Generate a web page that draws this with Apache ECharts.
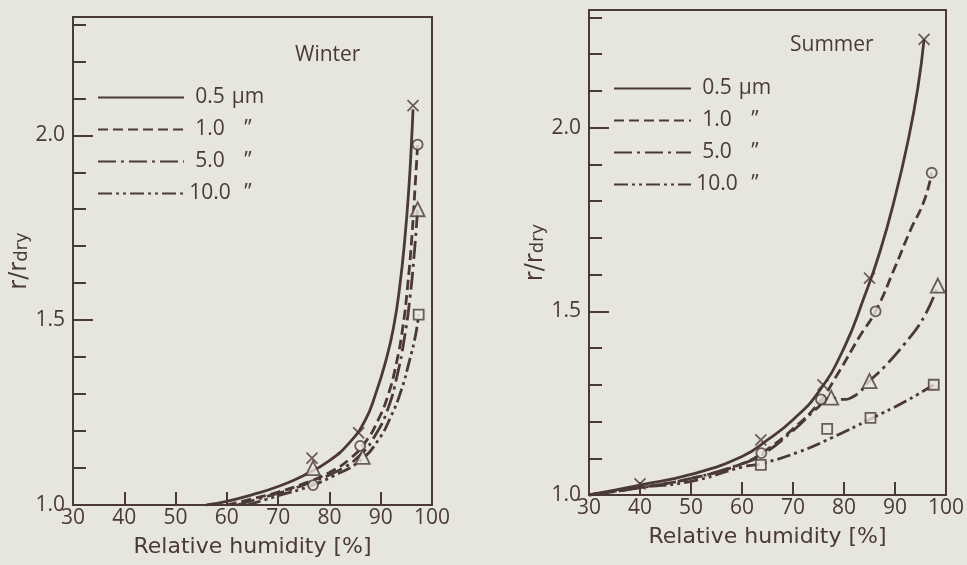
<!DOCTYPE html>
<html>
<head>
<meta charset="utf-8">
<script src="https://cdn.jsdelivr.net/npm/echarts@6/dist/echarts.min.js"></script>
<style>
  html, body { margin: 0; padding: 0; background: #e7e6de; }
  #chart { width: 967px; height: 565px; }
</style>
</head>
<body>
<div id="chart"></div>
<script>
// Growth factor r/r_dry against relative humidity for four dry radii.
const sizeNames = ['0.5 µm', '1.0 ”', '5.0 ”', '10.0 ”'];
const humidityTicks = [30, 40, 50, 60, 70, 80, 90, 100];
const ratioLabels = [1.0, 1.5, 2.0];

// Winter curves
const winterRh05 = [56, 60, 65, 70, 75, 80, 84, 87, 89, 91, 92.5, 93.7, 94.7, 95.5, 96.0, 96.3];
const winterR05  = [1.0, 1.01, 1.028, 1.05, 1.08, 1.12, 1.17, 1.23, 1.30, 1.39, 1.48, 1.59, 1.72, 1.86, 1.98, 2.07];
const winterRh10 = [60, 65, 70, 75, 80, 84, 87, 89.5, 91.5, 93, 94.3, 95.3, 96.1, 96.7, 97.2];
const winterR10  = [1.0, 1.017, 1.035, 1.058, 1.088, 1.125, 1.17, 1.23, 1.30, 1.38, 1.48, 1.60, 1.73, 1.86, 1.975];
const winterRh50 = [62, 67, 72, 77, 82, 86, 89, 91.4, 93.2, 94.6, 95.7, 96.6, 97.2];
const winterR50  = [1.0, 1.02, 1.04, 1.065, 1.095, 1.135, 1.19, 1.26, 1.35, 1.45, 1.56, 1.69, 1.80];
const winterRh100 = [64, 70, 76, 81, 86, 89.5, 92, 94, 95.6, 96.8, 97.4];
const winterR100  = [1.0, 1.025, 1.05, 1.08, 1.12, 1.175, 1.24, 1.31, 1.39, 1.46, 1.515];

// Winter measured points
const winterPts05  = [[76.6, 1.127], [85.7, 1.195], [96.3, 2.08]];
const winterPts10  = [[76.8, 1.054], [86.0, 1.16], [97.2, 1.975]];
const winterPts50  = [[76.8, 1.10], [86.5, 1.13], [97.2, 1.80]];
const winterPts100 = [[97.4, 1.515]];

// Summer curves
const summerRh05 = [30, 40, 50, 60, 65, 70, 75, 80, 84, 87, 90, 92.5, 94.5, 95.7];
const summerR05  = [1.0, 1.027, 1.056, 1.105, 1.15, 1.205, 1.28, 1.40, 1.54, 1.66, 1.81, 1.96, 2.11, 2.24];
const summerRh10 = [30, 40, 50, 60, 65, 70, 75, 79, 83, 86.2, 90, 93, 95.7, 97.2];
const summerR10  = [1.0, 1.02, 1.045, 1.085, 1.125, 1.18, 1.25, 1.335, 1.43, 1.50, 1.62, 1.72, 1.80, 1.877];
const summerRh50 = [30, 40, 50, 60, 64, 70, 75, 77.5, 79.4, 82.1, 85, 88, 91.8, 95.7, 98.4];
const summerR50  = [1.0, 1.02, 1.045, 1.085, 1.11, 1.175, 1.24, 1.265, 1.26, 1.27, 1.31, 1.35, 1.41, 1.485, 1.57];
const summerRh100 = [30, 40, 50, 60, 63.7, 71.1, 77.5, 85.2, 91.8, 97.6];
const summerR100  = [1.0, 1.02, 1.037, 1.076, 1.085, 1.117, 1.155, 1.207, 1.253, 1.30];

// Summer measured points
const summerPts05  = [[40, 1.03], [63.7, 1.15], [75.9, 1.30], [85.0, 1.59], [95.7, 2.24]];
const summerPts10  = [[63.8, 1.114], [75.5, 1.26], [86.2, 1.50], [97.2, 1.877]];
const summerPts50  = [[77.5, 1.265], [85.0, 1.31], [98.4, 1.57]];
const summerPts100 = [[63.7, 1.082], [76.7, 1.18], [85.2, 1.21], [97.6, 1.30]];

const paper = '#e7e6de';
const ink = '#4b3839';
const font = 'Open Sans';
const nameFont = 'DejaVu Sans';

const dashStyles = ['solid', [10, 5], [18, 5, 3, 5], [14, 4, 3, 4, 3, 4]];
const markerSymbols = ['path://M0,0L10,10M10,0L0,10', 'circle', 'triangle', 'rect'];
const markerSizes = [11, 10, 14, 10];

const pairs = (xs, ys) => xs.map((x, i) => [x, ys[i]]);

function curve(k, xs, ys, panel) {
  return {
    type: 'line', name: sizeNames[k],
    xAxisIndex: panel, yAxisIndex: panel * 2,
    data: pairs(xs, ys), smooth: 0.5, symbol: 'none',
    lineStyle: { color: ink, width: 2.8, type: dashStyles[k] },
    itemStyle: { color: ink },
    z: 3
  };
}

function points(k, pts, panel) {
  return {
    type: 'scatter', name: 'points ' + sizeNames[k],
    xAxisIndex: panel, yAxisIndex: panel * 2,
    data: pts, symbol: markerSymbols[k], symbolSize: markerSizes[k],
    itemStyle: { color: paper, borderColor: ink, borderWidth: 1.8 },
    z: 5
  };
}

function xAxis(gridIndex) {
  return {
    type: 'value', gridIndex, min: 30, max: 100, interval: 10,
    axisLine: { show: false },
    axisTick: { show: true, inside: true, length: 13, lineStyle: { color: ink, width: 2 } },
    axisLabel: { color: ink, fontSize: 21, fontFamily: font, margin: 3 },
    splitLine: { show: false },
    name: 'Relative humidity [%]', nameLocation: 'middle', nameGap: 31,
    nameTextStyle: { color: ink, fontSize: 22, fontFamily: nameFont }
  };
}

function yAxes(gridIndex, nameGap) {
  return [
    {
      type: 'value', gridIndex, position: 'left', min: 1.0, max: 2.32, interval: 0.5,
      axisLine: { show: false },
      axisTick: { show: true, inside: true, length: 20, lineStyle: { color: ink, width: 2 } },
      axisLabel: {
        color: ink, fontSize: 21, fontFamily: font, margin: 8,
        formatter: v => ratioLabels.some(r => Math.abs(r - v) < 1e-6) ? v.toFixed(1) : ''
      },
      splitLine: { show: false },
      name: '{a|r/r}{b|dry}', nameLocation: 'middle', nameGap, nameRotate: 90,
      nameTextStyle: {
        color: ink, fontFamily: nameFont,
        rich: {
          a: { fontSize: 24, lineHeight: 24, verticalAlign: 'top', color: ink, fontFamily: nameFont },
          b: { fontSize: 18, lineHeight: 18, padding: [12, 0, 0, 0], verticalAlign: 'bottom', color: ink, fontFamily: nameFont }
        }
      }
    },
    {
      type: 'value', gridIndex, position: 'left', min: 1.0, max: 2.32, interval: 0.1,
      axisLine: { show: false },
      axisTick: { show: true, inside: true, length: 13, lineStyle: { color: ink, width: 2 } },
      axisLabel: { show: false },
      splitLine: { show: false }
    }
  ];
}

function legend(left, top, width) {
  return {
    data: sizeNames, orient: 'vertical', left, top, padding: 0,
    itemWidth: width, itemHeight: 14, itemGap: 11, selectedMode: false,
    itemStyle: { opacity: 0 },
    formatter: name => {
      const parts = name.split(' ');
      return '{n|' + parts[0] + '}{u|' + parts[1] + '}';
    },
    textStyle: {
      color: ink, fontFamily: font, fontSize: 21, lineHeight: 20,
      rich: {
        n: { width: 42, align: 'right', color: ink, fontSize: 21, lineHeight: 20, fontFamily: font },
        u: { width: 34, align: 'center', color: ink, fontSize: 21, lineHeight: 20, fontFamily: font }
      }
    }
  };
}

const chart = echarts.init(document.getElementById('chart'), null, { renderer: 'canvas' });

chart.setOption({
  backgroundColor: paper,
  animation: false,
  title: [
    { text: 'Winter', left: 290, top: 40, textStyle: { color: ink, fontSize: 21, fontWeight: 'normal', fontFamily: font } },
    { text: 'Summer', left: 785, top: 30, textStyle: { color: ink, fontSize: 21, fontWeight: 'normal', fontFamily: font } }
  ],
  legend: [legend(97, 87, 86), legend(613, 78, 77)],
  grid: [
    { left: 73, right: 535, top: 17, bottom: 60, show: true, borderColor: ink, borderWidth: 2, backgroundColor: 'transparent' },
    { left: 589, right: 17, top: 10, bottom: 70, show: true, borderColor: ink, borderWidth: 2, backgroundColor: 'transparent' }
  ],
  xAxis: [xAxis(0), xAxis(1)],
  yAxis: [...yAxes(0, 34), ...yAxes(1, 38)],
  series: [
    curve(0, winterRh05, winterR05, 0),
    curve(1, winterRh10, winterR10, 0),
    curve(2, winterRh50, winterR50, 0),
    curve(3, winterRh100, winterR100, 0),
    points(0, winterPts05, 0),
    points(1, winterPts10, 0),
    points(2, winterPts50, 0),
    points(3, winterPts100, 0),
    curve(0, summerRh05, summerR05, 1),
    curve(1, summerRh10, summerR10, 1),
    curve(2, summerRh50, summerR50, 1),
    curve(3, summerRh100, summerR100, 1),
    points(0, summerPts05, 1),
    points(1, summerPts10, 1),
    points(2, summerPts50, 1),
    points(3, summerPts100, 1)
  ]
});
</script>
</body>
</html>
